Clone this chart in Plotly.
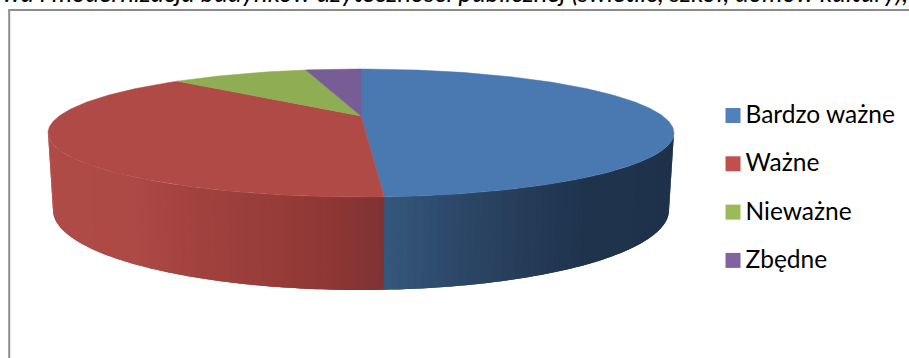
import math
import plotly.graph_objects as go

categories = ["Bardzo ważne", "Ważne", "Nieważne", "Zbędne"]
values = [49.1, 38.1, 9.1, 3.7]
top_colors = ["#4A78B0", "#B04A47", "#8FAD52", "#775C96"]
legend_colors = ["#4F81BD", "#C0504D", "#9BBB59", "#8064A2"]
title_text = "wa i modernizacja budynków użyteczności publicznej (świetlic, szkół, domów kultury),"

# drawing geometry in page pixels
CX, CY, A, B = 361.0, 133.0, 313.0, 64.0
APEX = -17.0
BOT_CY, BOT_A, BOT_B = 210.0, 308.0, 80.0
k = APEX / B  # perspective factor
D = A * math.sqrt(1 - k * k)
OVERHANG = 20  # plot area starts above the page so the cut heading stays on the axes


def top_point(theta):
    u, v = math.sin(theta), -math.cos(theta)
    w = 1 + k * v
    return CX + D * u / w, CY + (B * v + APEX) / w


def lerp_stops(stops, x):
    if x <= stops[0][0]:
        return stops[0][1]
    for (x0, c0), (x1, c1) in zip(stops, stops[1:]):
        if x <= x1:
            t = (x - x0) / (x1 - x0)
            return tuple(a + (b - a) * t for a, b in zip(c0, c1))
    return stops[-1][1]


wall_shades = {
    0: [(384, (52, 88, 125)), (455, (45, 72, 105)), (540, (36, 58, 86)), (590, (31, 51, 77)), (680, (30, 50, 75))],
    1: [(50, (175, 75, 71)), (130, (174, 74, 70)), (190, (163, 66, 63)), (280, (150, 60, 57)), (340, (140, 54, 52)), (384, (128, 50, 52))],
}

fig = go.Figure()

# side wall: strips between the rim of the top face and the rim of the base.
# Each strip runs a little under the next one so no seams show.
total = sum(values)
seam_theta = 2 * math.pi * values[0] / total
seam_x = top_point(seam_theta)[0]
phi_seam = math.acos((seam_x - CX) / A)
ranges = [(0, 0.0, phi_seam, 60), (1, phi_seam, math.pi, 90)]
for idx, lo, hi, n in ranges:
    step = (hi - lo) / n
    for i in range(n):
        p0 = lo + step * i
        p1 = min(p0 + step * 2, math.pi) if not (idx == 1 and i == n - 1) else math.pi
        xs, ys = [], []
        for p in (p0, (p0 + p1) / 2, p1):
            xs.append(CX + A * math.cos(p))
            ys.append(CY + B * math.sin(p))
        for p in (p1, (p0 + p1) / 2, p0):
            xs.append(CX + BOT_A * math.cos(p))
            ys.append(BOT_CY + BOT_B * math.sin(p))
        xm = CX + A * math.cos(p0 + step / 2)
        r, g, b = lerp_stops(wall_shades[idx], xm)
        col = f"rgb({r:.0f},{g:.0f},{b:.0f})"
        fig.add_trace(go.Scatter(x=xs, y=ys, mode="none", fill="toself", fillcolor=col,
                                 hoverinfo="skip", showlegend=False))

# top face
start = 0.0
for name, val, col in zip(categories, values, top_colors):
    end = start + val
    n = max(4, int(val * 4))
    thetas = [2 * math.pi * (start + (end - start) * j / n) / total for j in range(n + 1)]
    pts = [top_point(t) for t in thetas]
    xs = [CX] + [p[0] for p in pts] + [CX]
    ys = [CY + APEX] + [p[1] for p in pts] + [CY + APEX]
    fig.add_trace(go.Scatter(x=xs, y=ys, mode="lines", fill="toself", fillcolor=col,
                             line=dict(color=col, width=0.5), name=name, text=name,
                             hoverinfo="text", showlegend=False))
    start = end

# legend
for i, (name, col) in enumerate(zip(categories, legend_colors)):
    yy = 115.5 + 48.3 * i
    fig.add_trace(go.Scatter(x=[733], y=[yy], mode="markers",
                             marker=dict(symbol="square", size=15, color=col), hoverinfo="skip", showlegend=False))
    fig.add_trace(go.Scatter(x=[745.5], y=[yy + 1.5], mode="text", text=[name], textposition="middle right",
                             textfont=dict(family="Lato", size=24.5, color="#000000"),
                             hoverinfo="skip", showlegend=False, cliponaxis=False))

# heading, cut by the top of the picture as in the reference
fig.add_trace(go.Scatter(x=[908], y=[-4], mode="text", text=[title_text], textposition="middle left",
                         textfont=dict(family="Lato", size=25.8, color="#000000", style="italic"),
                         hoverinfo="skip", showlegend=False, cliponaxis=False))

fig.update_layout(
    width=909, height=358 + OVERHANG, autosize=False,
    margin=dict(l=0, r=0, t=0, b=0),
    paper_bgcolor="white", plot_bgcolor="white",
    xaxis=dict(range=[0, 909], visible=False, fixedrange=True),
    yaxis=dict(range=[358, -OVERHANG], visible=False, fixedrange=True),
    shapes=[
        dict(type="line", x0=9.2, x1=9.2, y0=10, y1=358, layer="above", line=dict(color="#8C8C8C", width=2)),
        dict(type="line", x0=8.2, x1=909, y0=10, y1=10, layer="above", line=dict(color="#8C8C8C", width=2)),
    ],
)

fig.write_html("out.html", config={"displayModeBar": False},
               post_script=f"document.body.style.margin='-{OVERHANG}px 0 0 0';document.documentElement.style.overflow='hidden';")
